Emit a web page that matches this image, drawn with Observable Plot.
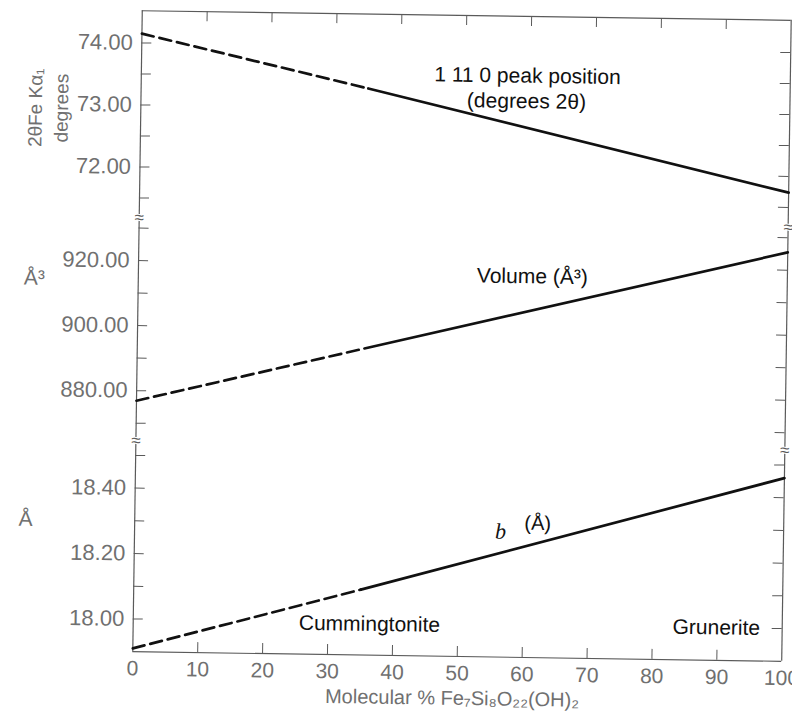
<!DOCTYPE html>
<html><head><meta charset="utf-8">
<script src="https://cdn.jsdelivr.net/npm/d3@7"></script>
<script src="https://cdn.jsdelivr.net/npm/@observablehq/plot@0.6"></script>
<style>
body{margin:0;background:#fff}
#chart{width:792px;height:715px;transform:rotate(0.85deg);transform-origin:461px 335px}
#chart svg{display:block}
</style>
</head><body><div id="chart"></div>
<script>
// Data
const composition = [0, 35, 100];            // Molecular % Fe7Si8O22(OH)2 (dashed up to 35)
const peakPosition = [74.15, 73.32, 71.74];  // 1 11 0 peak, degrees 2θ
const cellVolume = [876.9, 894.0, 925.5];    // Å³
const bLength = [17.91, 18.10, 18.46];       // b, Å

const xTicks = [0, 10, 20, 30, 40, 50, 60, 70, 80, 90, 100];
const peakTicks = [74, 73, 72];
const peakMinor = [73.5, 72.5, 71.5];
const volumeTicks = [920, 900, 880];
const volumeMinor = [930, 910, 890, 870];
const bTicks = [18.4, 18.2, 18.0];
const bMinor = [18.5, 18.3, 18.1];

const W = 792, ML = 137, MR = 6, IW = W - ML - MR;
const FRAME = "#5a5a5a", LABEL = "#707070";
const fmt = d3.format(".2f");

function panel({domain, height, marginTop = 0, marginBottom = 0, values, major, minor,
                top = false, bottom = false, breakTop = false, extra = []}) {
  const IH = height - marginTop - marginBottom;
  const rows = composition.map((x, i) => ({x, y: values[i]}));
  const all = [...major, ...minor];
  return Plot.plot({
    width: W, height, marginLeft: ML, marginRight: MR, marginTop, marginBottom,
    x: {domain: [0, 100], axis: null},
    y: {domain, axis: null},
    style: {overflow: "visible", background: "transparent", fontFamily: "Liberation Sans, Arial, sans-serif"},
    marks: [
      Plot.ruleX([0, 100], {x: d => d, stroke: FRAME, strokeWidth: 1.2}),
      top ? Plot.ruleY([domain[1]], {y: d => d, stroke: FRAME, strokeWidth: 1.2}) : null,
      bottom ? Plot.ruleY([domain[0]], {y: d => d, stroke: FRAME, strokeWidth: 1.2}) : null,
      Plot.tickY(all, {y: d => d, insetRight: IW - 10, stroke: FRAME, strokeWidth: 1}),
      Plot.tickY(all, {y: d => d, insetLeft: IW - 10, stroke: FRAME, strokeWidth: 1}),
      top ? Plot.tickX(xTicks.slice(1, -1), {x: d => d, insetBottom: IH - 10, stroke: FRAME}) : null,
      bottom ? Plot.tickX(xTicks.slice(1, -1), {x: d => d, insetTop: IH - 10, stroke: FRAME}) : null,
      Plot.text(major, {x: () => 0, y: d => d, text: d => fmt(d), textAnchor: "end", dx: -9,
        fontSize: 22, fill: LABEL}),
      Plot.line(rows.slice(0, 2), {x: "x", y: "y", stroke: "#111", strokeWidth: 2.7, strokeDasharray: "12,6"}),
      Plot.line(rows.slice(1), {x: "x", y: "y", stroke: "#111", strokeWidth: 2.7}),
      breakTop ? Plot.text([0, 100], {x: d => d, y: () => domain[1], text: () => "≈", fontSize: 17,
        fill: FRAME, stroke: "white", strokeWidth: 2}) : null,
      ...extra
    ]
  });
}

const chart = document.getElementById("chart");

const d1 = [71.18, 74.52];
chart.append(panel({
  domain: d1, height: 222, marginTop: 15, values: peakPosition, major: peakTicks, minor: peakMinor, top: true,
  extra: [
    Plot.text(["1 11 0 peak position"], {x: () => 59.5, y: () => 73.56, text: d => d, fontSize: 21, fill: "#111"}),
    Plot.text(["(degrees 2θ)"], {x: () => 59.4, y: () => 73.15, text: d => d, fontSize: 21, fill: "#111"}),
    Plot.text(["2θFe Kα₁"], {x: () => 0, y: () => 72.93, dx: -105, rotate: -90, textAnchor: "middle",
      text: d => d, fontSize: 19, fill: LABEL}),
    Plot.text(["degrees"], {x: () => 0, y: () => 72.93, dx: -79, rotate: -90, textAnchor: "middle",
      text: d => d, fontSize: 19, fill: LABEL})
  ]
}));

const d2 = [864.6, 933.2];
chart.append(panel({
  domain: d2, height: 223, values: cellVolume, major: volumeTicks, minor: volumeMinor, breakTop: true,
  extra: [
    Plot.text(["Volume (Å³)"], {x: () => 60.7, y: () => 916.9, text: d => d, fontSize: 21, fill: "#111"}),
    Plot.text(["Å³"], {x: () => 0, y: () => 914.2, dx: -104, textAnchor: "middle", text: d => d,
      fontSize: 21, fill: LABEL})
  ]
}));

const d3r = [17.90, 18.545];
chart.append(panel({
  domain: d3r, height: 270, marginBottom: 59, values: bLength, major: bTicks, minor: bMinor,
  bottom: true, breakTop: true,
  extra: [
    Plot.text(["b"], {x: () => 56.4, y: () => 18.284, text: d => d, fontSize: 22, fontStyle: "italic",
      fontFamily: "Liberation Serif, serif", fill: "#111"}),
    Plot.text(["(Å)"], {x: () => 62.1, y: () => 18.31, text: d => d, fontSize: 20, fill: "#111"}),
    Plot.text(["Cummingtonite"], {x: () => 36.4, y: () => 17.995, text: d => d, fontSize: 21, fill: "#111"}),
    Plot.text(["Grunerite"], {x: () => 96.6, y: () => 18.0, text: d => d, textAnchor: "end", fontSize: 21, fill: "#111"}),
    Plot.text(["Å"], {x: () => 0, y: () => 18.30, dx: -109, textAnchor: "middle", text: d => d,
      fontSize: 21, fill: LABEL}),
    Plot.text(xTicks, {x: d => d, y: () => d3r[0], text: d => String(d), dy: 17, fontSize: 21, fill: LABEL}),
    Plot.text(["Molecular % Fe₇Si₈O₂₂(OH)₂"], {x: () => 49.3, y: () => d3r[0], dy: 42, text: d => d,
      fontSize: 20, fill: LABEL})
  ]
}));
</script>
</body></html>
